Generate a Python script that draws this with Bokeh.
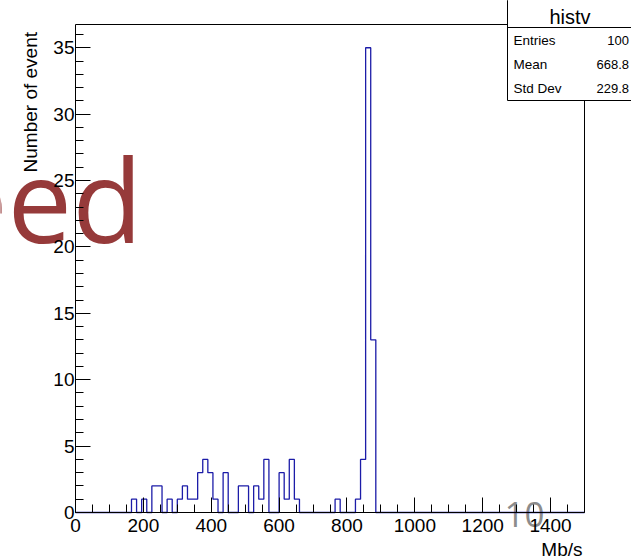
import math
import numpy as np
from bokeh.plotting import figure
from bokeh.models import Range1d, FixedTicker, Label, BoxAnnotation, LinearAxis
from bokeh.embed import file_html
from bokeh.resources import INLINE

# ---------------- data ----------------
x_lo, x_hi, n_bins = 0, 1500, 100
counts = [
    0, 0, 0, 0, 0, 0, 0, 0, 0, 0,
    0, 1, 0, 1, 0, 2, 2, 0, 1, 0,
    1, 2, 1, 1, 3, 4, 3, 1, 0, 3,
    0, 0, 2, 2, 0, 2, 1, 4, 0, 0,
    3, 1, 4, 1, 0, 0, 0, 0, 0, 0,
    0, 1, 0, 0, 0, 1, 4, 35, 13, 0,
    0, 0, 0, 0, 0, 0, 0, 0, 0, 0,
    0, 0, 0, 0, 0, 0, 0, 0, 0, 0,
    0, 0, 0, 0, 0, 0, 0, 0, 0, 0,
    0, 0, 0, 0, 0, 0, 0, 0, 0, 0,
]
y_max = 36.75
x_ticks = [0, 200, 400, 600, 800, 1000, 1200, 1400]
x_minor = list(range(0, 1501, 50))
y_ticks = [0, 5, 10, 15, 20, 25, 30, 35]
y_minor = list(range(0, 37, 1))
hist_name = "histv"
stat_names = ["Entries", "Mean", "Std Dev"]
stat_values = ["100", "668.8", "229.8"]
x_title = "Mb/s"
y_title = "Number of event"
overlay_word = "eed"
page_number = "10"

# ---------------- layout ----------------
W, H = 631, 559
FX0, FX1, FY0, FY1 = 75, 584, 24, 512     # pixel box of the histogram frame
FONT = "Liberation Sans"

sx = (FX1 - FX0) / (x_hi - x_lo)
sy = (FY1 - FY0) / y_max
xr = Range1d(x_lo - FX0 / sx, x_hi + (W - FX1) / sx)
yr = Range1d(0 - (H - FY1) / sy, y_max + FY0 / sy)

def dx(px):
    return x_lo + (px - FX0) / sx

def dy(py):
    return (FY1 - py) / sy

p = figure(width=W, height=H, x_range=xr, y_range=yr,
           output_backend="svg", toolbar_location=None,
           min_border=0, min_border_left=0, min_border_right=0,
           min_border_top=0, min_border_bottom=0)
p.grid.visible = False
p.background_fill_color = "white"
p.border_fill_color = "white"
p.outline_line_color = None

xa = p.xaxis[0]
ya = p.yaxis[0]
xa.fixed_location = 0
xa.bounds = (x_lo, x_hi)
ya.fixed_location = x_lo
ya.bounds = (0, y_max)

for ax, ticks, minor in ((xa, x_ticks, x_minor), (ya, y_ticks, y_minor)):
    ax.ticker = FixedTicker(ticks=ticks, minor_ticks=minor)
    ax.major_tick_in = 15
    ax.major_tick_out = 0
    ax.minor_tick_in = 8
    ax.minor_tick_out = 0
    ax.axis_line_color = "black"
    ax.major_tick_line_color = "black"
    ax.minor_tick_line_color = "black"
    ax.major_label_text_font = FONT
    ax.major_label_text_font_size = "19px"
    ax.major_label_text_color = "black"
xa.major_label_standoff = 6
ya.major_label_standoff = 1

# top and right edges of the frame (axes without ticks)
top_ax = LinearAxis(fixed_location=y_max, bounds=(x_lo, x_hi),
                    ticker=FixedTicker(ticks=[], minor_ticks=[]),
                    axis_line_color="black", major_label_text_font_size="0px")
right_ax = LinearAxis(fixed_location=x_hi, bounds=(0, y_max),
                      ticker=FixedTicker(ticks=[], minor_ticks=[]),
                      axis_line_color="black", major_label_text_font_size="0px")
p.add_layout(top_ax, "above")
p.add_layout(right_ax, "right")

# histogram
edges = np.linspace(x_lo, x_hi, n_bins + 1)
ys = list(counts) + [counts[-1]]
p.step(edges, ys, mode="after", line_color="#1c1ca8", line_width=1.3)

# overlays (under axes)
p.add_layout(Label(x=dx(142), y=dy(198), text=overlay_word, text_align="right",
                   text_baseline="middle", text_font="Open Sans",
                   text_font_size="115px", text_color="#963a3a", level="underlay"))
p.add_layout(Label(x=dx(504), y=dy(514), text=page_number, text_align="left",
                   text_baseline="middle", text_font="Open Sans",
                   text_font_size="35px", text_color="#8c8c8c", level="underlay"))

# axis titles
p.add_layout(Label(x=dx(30), y=dy(31.5), text=y_title, angle=math.pi / 2,
                   text_align="right", text_baseline="middle",
                   text_font=FONT, text_font_size="19px", text_color="black"))
p.add_layout(Label(x=dx(582), y=dy(548.5), text=x_title, text_align="right",
                   text_baseline="middle",
                   text_font=FONT, text_font_size="19px", text_color="black"))

# stats box
p.add_layout(BoxAnnotation(left=dx(507), right=dx(645), top=dy(-10), bottom=dy(100),
                           fill_color="white", fill_alpha=1, line_color="black",
                           line_width=1, line_alpha=1))
p.add_layout(BoxAnnotation(left=dx(507), right=dx(645), top=dy(-10), bottom=dy(27),
                           fill_alpha=0, line_color="black", line_width=1, line_alpha=1))
p.add_layout(Label(x=dx(569.5), y=dy(16), text=hist_name, text_align="center",
                   text_baseline="middle", text_font=FONT,
                   text_font_size="20px", text_color="black"))
for i, (nm, vl) in enumerate(zip(stat_names, stat_values)):
    yy = dy(40 + 24.2 * i)
    p.add_layout(Label(x=dx(513), y=yy, text=nm, text_align="left", text_baseline="middle",
                       text_font=FONT, text_font_size="13.5px", text_color="black"))
    p.add_layout(Label(x=dx(628.5), y=yy, text=vl, text_align="right", text_baseline="middle",
                       text_font=FONT, text_font_size="13px", text_color="black"))

open("out.html", "w").write(file_html(p, INLINE))
